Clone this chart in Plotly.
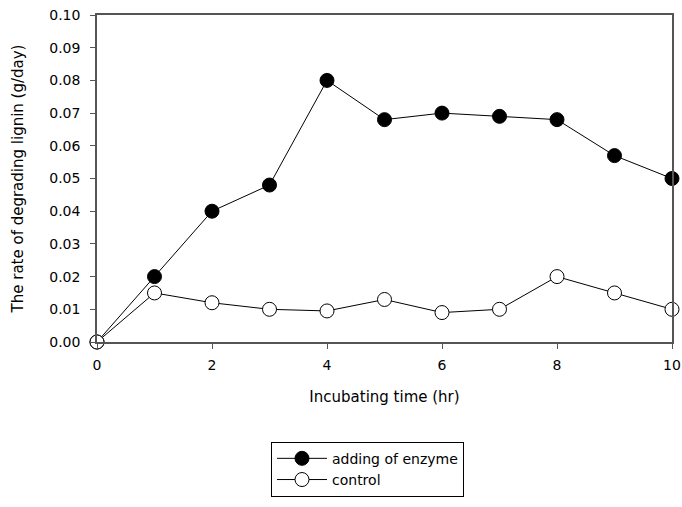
import plotly.graph_objects as go

time_hr = [0, 1, 2, 3, 4, 5, 6, 7, 8, 9, 10]
enzyme = [0.0, 0.020, 0.040, 0.048, 0.080, 0.068, 0.070, 0.069, 0.068, 0.057, 0.050]
control = [0.0, 0.015, 0.012, 0.010, 0.0095, 0.013, 0.009, 0.010, 0.020, 0.015, 0.010]

fig = go.Figure()
fig.add_trace(go.Scatter(
    x=time_hr, y=enzyme, name="adding of enzyme", mode="lines+markers",
    line=dict(color="black", width=1),
    marker=dict(size=14, color="black", line=dict(color="black", width=1)),
    cliponaxis=False,
))
fig.add_trace(go.Scatter(
    x=time_hr, y=control, name="control", mode="lines+markers",
    line=dict(color="black", width=1),
    marker=dict(size=14, color="white", line=dict(color="black", width=1)),
    cliponaxis=False,
))

axis_color = "#555555"
font_family = "DejaVu Sans, Arial, sans-serif"
fig.update_layout(
    width=682, height=507,
    margin=dict(l=97, r=10, t=15, b=157),
    paper_bgcolor="white", plot_bgcolor="white",
    font=dict(family=font_family, color="black", size=13),
    showlegend=True,
    legend=dict(
        x=0.3026, xanchor="left", y=-0.305, yanchor="top",
        bordercolor="black", borderwidth=1, bgcolor="white",
        font=dict(size=14), tracegroupgap=0, itemwidth=50,
    ),
    xaxis=dict(
        range=[0, 10], tickvals=[0, 2, 4, 6, 8, 10],
        showgrid=False, zeroline=False, automargin=False,
        showline=True, linecolor=axis_color, linewidth=1.5, mirror=True,
        ticks="outside", ticklen=5, tickcolor=axis_color,
        tickfont=dict(size=14), ticklabelstandoff=4, ticklabeloverflow="allow",
        title=dict(text="Incubating time (hr)", font=dict(size=15), standoff=20),
    ),
    yaxis=dict(
        range=[0, 0.10], dtick=0.01, tickformat=".2f",
        showgrid=False, zeroline=False, automargin=False,
        showline=True, linecolor=axis_color, linewidth=1.5, mirror=True,
        ticks="outside", ticklen=5, tickcolor=axis_color,
        tickfont=dict(size=14), ticklabelstandoff=7, ticklabeloverflow="allow",
        title=dict(text="The rate of degrading lignin (g/day)", font=dict(size=15), standoff=22),
    ),
)

fig.write_html(
    "out.html",
    config={"displayModeBar": False},
    post_script="document.body.style.margin='0';document.body.style.overflow='hidden';",
)
